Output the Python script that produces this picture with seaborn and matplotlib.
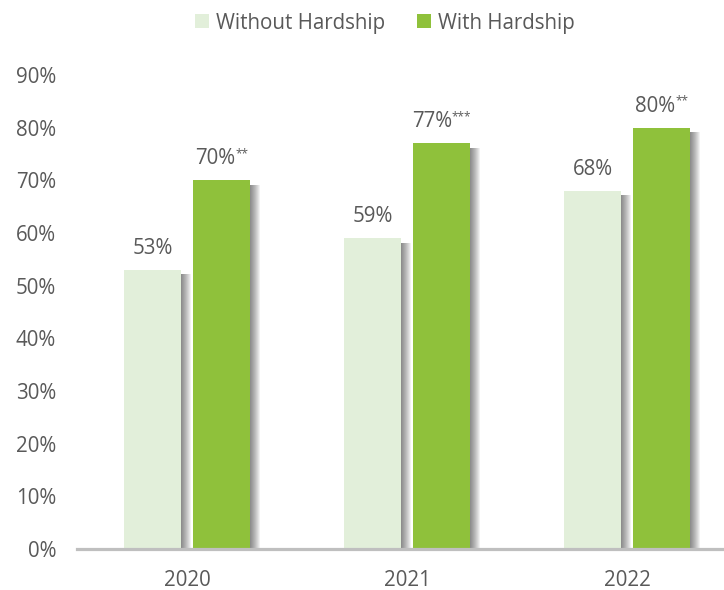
import matplotlib
matplotlib.use("Agg")
import matplotlib.pyplot as plt
import seaborn as sns
import pandas as pd
from matplotlib import patheffects as pe
from matplotlib.patches import Patch

# Data
years = ["2020", "2021", "2022"]
series = ["Without Hardship", "With Hardship"]
without_hardship = [53, 59, 68]
with_hardship = [70, 77, 80]
without_marks = ["", "", ""]
with_marks = ["**", "***", "**"]
y_ticks = [0, 10, 20, 30, 40, 50, 60, 70, 80, 90]

colors = ["#E2EFDA", "#8FC13B"]
text_color = "#595959"
axis_color = "#BFBFBF"

df = pd.DataFrame({
    "Year": years * 2,
    "Group": [series[0]] * len(years) + [series[1]] * len(years),
    "Share": without_hardship + with_hardship,
})

sns.set_theme(style="white")
plt.rcParams["font.family"] = ["Open Sans", "DejaVu Sans"]

FS = 14.8
W, H, DPI = 724, 590, 100
fig = plt.figure(figsize=(W / DPI, H / DPI), dpi=DPI)
ax = fig.add_axes([77 / W, 41 / H, 647 / W, 474 / H])

sns.barplot(
    data=df, x="Year", y="Share", hue="Group", hue_order=series,
    palette=colors, saturation=1, width=0.628, gap=0.172,
    errorbar=None, legend=False, linewidth=0, ax=ax,
)

ax.set_xlim(-0.5, -0.5 + 647 / 220)
ax.set_ylim(0, 90)
ax.set_yticks(y_ticks)
ax.set_yticklabels([f"{v}%" for v in y_ticks])
ax.set_xlabel("")
ax.set_ylabel("")

for side in ["left", "top", "right"]:
    ax.spines[side].set_visible(False)
ax.spines["bottom"].set_color(axis_color)
ax.spines["bottom"].set_linewidth(2.3)
ax.spines["bottom"].set_zorder(5)

ax.tick_params(axis="y", length=0, pad=15, labelsize=FS, labelcolor=text_color)
ax.tick_params(axis="x", length=0, pad=15, labelsize=FS, labelcolor=text_color)

# Soft drop shadow to the right of each bar
shadow = [
    pe.SimplePatchShadow(offset=(dx * 0.72, -3.2), shadow_rgbFace="black", alpha=0.055)
    for dx in range(1, 11)
]
for bar in ax.patches:
    bar.set_path_effects(shadow + [pe.Normal()])

# Value labels with significance markers, centred as a whole over each bar
fig.canvas.draw()
renderer = fig.canvas.get_renderer()
for container, marks in zip(ax.containers, [without_marks, with_marks]):
    for bar, mark in zip(container, marks):
        x = bar.get_x() + bar.get_width() / 2
        v = bar.get_height()
        main = ax.annotate(
            f"{v:.0f}%", xy=(x, v), xytext=(0, 11), textcoords="offset pixels",
            ha="center", va="bottom", fontsize=FS, color=text_color,
            annotation_clip=False,
        )
        if mark:
            star = ax.annotate(
                mark, xy=(1, 1), xycoords=main, xytext=(0, 1),
                textcoords="offset pixels", ha="left", va="top",
                fontsize=8.5, color=text_color,
            )
            w = star.get_window_extent(renderer).width
            main.set_position((-w / 2, 11))

# Legend across the top
handles = [Patch(facecolor=c, edgecolor="none") for c in colors]
fig.legend(
    handles, series, loc="center", bbox_to_anchor=(0.532, 1 - 23 / H),
    ncol=2, frameon=False, fontsize=FS, labelcolor=text_color,
    handlelength=0.68, handleheight=0.68, handletextpad=0.35,
    columnspacing=1.55,
)

fig.savefig("out.png", dpi=DPI)
